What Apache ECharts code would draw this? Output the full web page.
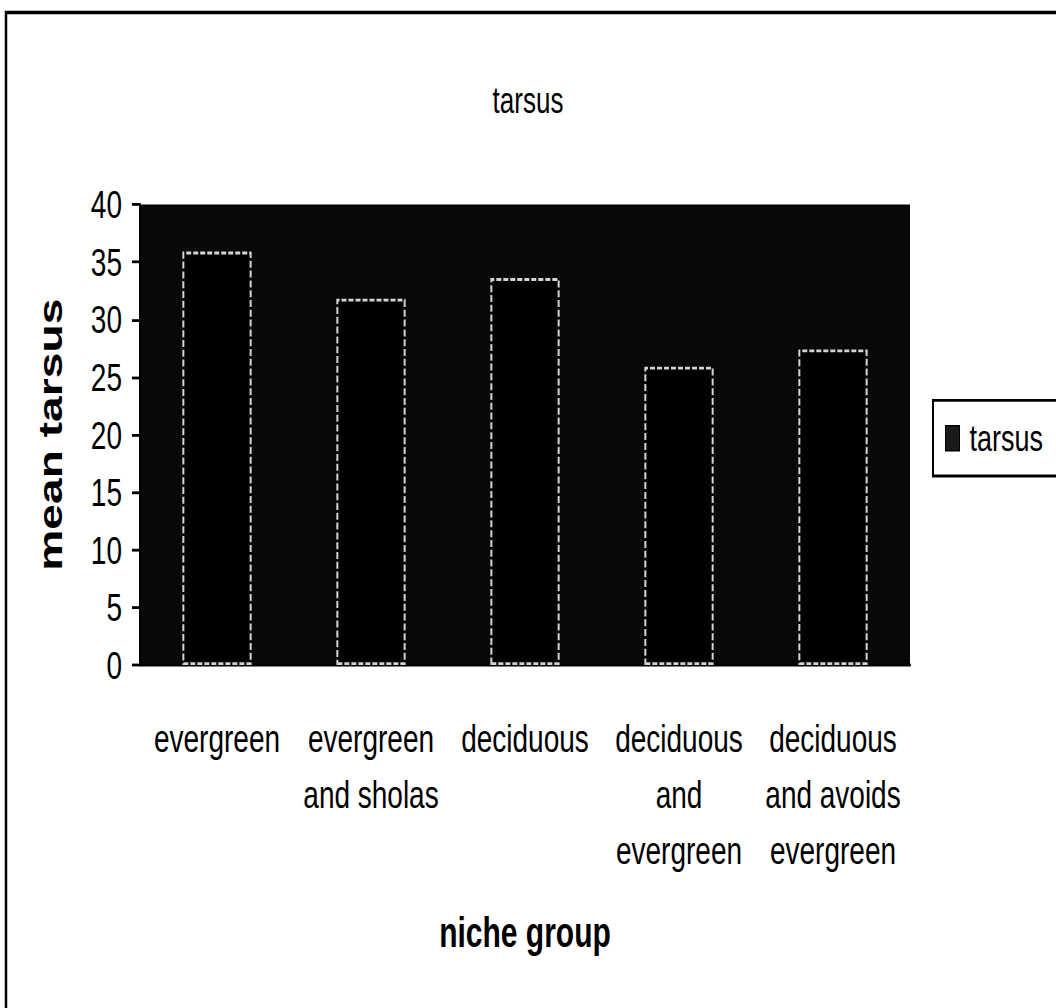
<!DOCTYPE html>
<html>
<head>
<meta charset="utf-8">
<title>tarsus</title>
<script src="https://cdn.jsdelivr.net/npm/echarts@6/dist/echarts.min.js"></script>
<style>
  html, body { margin: 0; padding: 0; background: #fff; }
  #frame { position: relative; width: 1056px; height: 1008px; overflow: hidden; }
  /* The chart is laid out on a shorter canvas and stretched vertically,
     giving the tall, condensed lettering of the printed figure. */
  #chart {
    position: absolute;
    left: 0;
    top: 0;
    width: 1056px;
    height: 720px;
    transform: scaleY(1.4);
    transform-origin: 0 0;
  }
</style>
</head>
<body>
<div id="frame"><div id="chart"></div></div>
<script>
// Niche groups along the x axis (line breaks as printed under each bar)
const categories = [
  'evergreen',
  'evergreen\nand sholas',
  'deciduous',
  'deciduous\nand\nevergreen',
  'deciduous\nand avoids\nevergreen'
];
// Mean tarsus length per niche group
const tarsusValues = [35.9, 31.8, 33.6, 25.9, 27.4];
// Value axis ticks
const yTicks = [0, 5, 10, 15, 20, 25, 30, 35, 40];

const FONT = "'Liberation Sans', Arial, sans-serif";

const chart = echarts.init(document.getElementById('chart'), null, { renderer: 'svg' });

chart.setOption({
  animation: false,
  backgroundColor: '#ffffff',
  title: {
    text: 'tarsus',
    left: 'center',
    top: 54,
    textStyle: { fontFamily: FONT, fontSize: 26, fontWeight: 'normal', color: '#000' }
  },
  legend: {
    left: 933,
    top: 286,
    orient: 'vertical',
    padding: [12, 16, 12, 12],
    borderColor: '#000',
    borderWidth: 2,
    itemWidth: 14,
    itemHeight: 18,
    icon: 'rect',
    itemStyle: { color: '#1a1a1a', borderColor: '#000', borderWidth: 1 },
    textStyle: { fontFamily: FONT, fontSize: 27, lineHeight: 30, color: '#000', padding: [0, 0, 0, 5] },
    data: ['tarsus']
  },
  grid: {
    left: 140,
    right: 146,
    top: 146,
    bottom: 245,
    show: true,
    backgroundColor: '#080808',
    borderWidth: 0
  },
  xAxis: {
    type: 'category',
    data: categories,
    name: 'niche group',
    nameLocation: 'middle',
    nameGap: 176,
    nameTextStyle: { fontFamily: FONT, fontSize: 30, fontWeight: 'bold', color: '#000' },
    axisLine: { lineStyle: { color: '#000', width: 2 } },
    axisTick: { length: 9, lineStyle: { color: '#000', width: 2 } },
    axisLabel: {
      interval: 0,
      margin: 32,
      fontFamily: FONT,
      fontSize: 28,
      lineHeight: 40,
      color: '#000'
    }
  },
  yAxis: {
    type: 'value',
    min: yTicks[0],
    max: yTicks[yTicks.length - 1],
    interval: yTicks[1] - yTicks[0],
    name: 'mean tarsus',
    nameLocation: 'middle',
    nameRotate: 90,
    nameGap: 73,
    nameTextStyle: { fontFamily: FONT, fontSize: 33, fontWeight: 'bold', color: '#000' },
    axisLine: { show: true, lineStyle: { color: '#000', width: 2 } },
    axisTick: { show: true, length: 8, lineStyle: { color: '#000', width: 2 } },
    axisLabel: { margin: 18, fontFamily: FONT, fontSize: 28, color: '#000' },
    splitLine: { show: false }
  },
  series: [{
    name: 'tarsus',
    type: 'bar',
    data: tarsusValues,
    barCategoryGap: '55%',
    itemStyle: {
      color: '#000',
      borderColor: '#d4d4d4',
      borderWidth: 2,
      borderType: [5, 2]
    }
  }],
  graphic: [{
    type: 'rect',
    shape: { x: 6, y: 9, width: 1060, height: 730 },
    style: { fill: null, stroke: '#000', lineWidth: 2.5 },
    silent: true,
    z: 100
  }]
});
</script>
</body>
</html>
